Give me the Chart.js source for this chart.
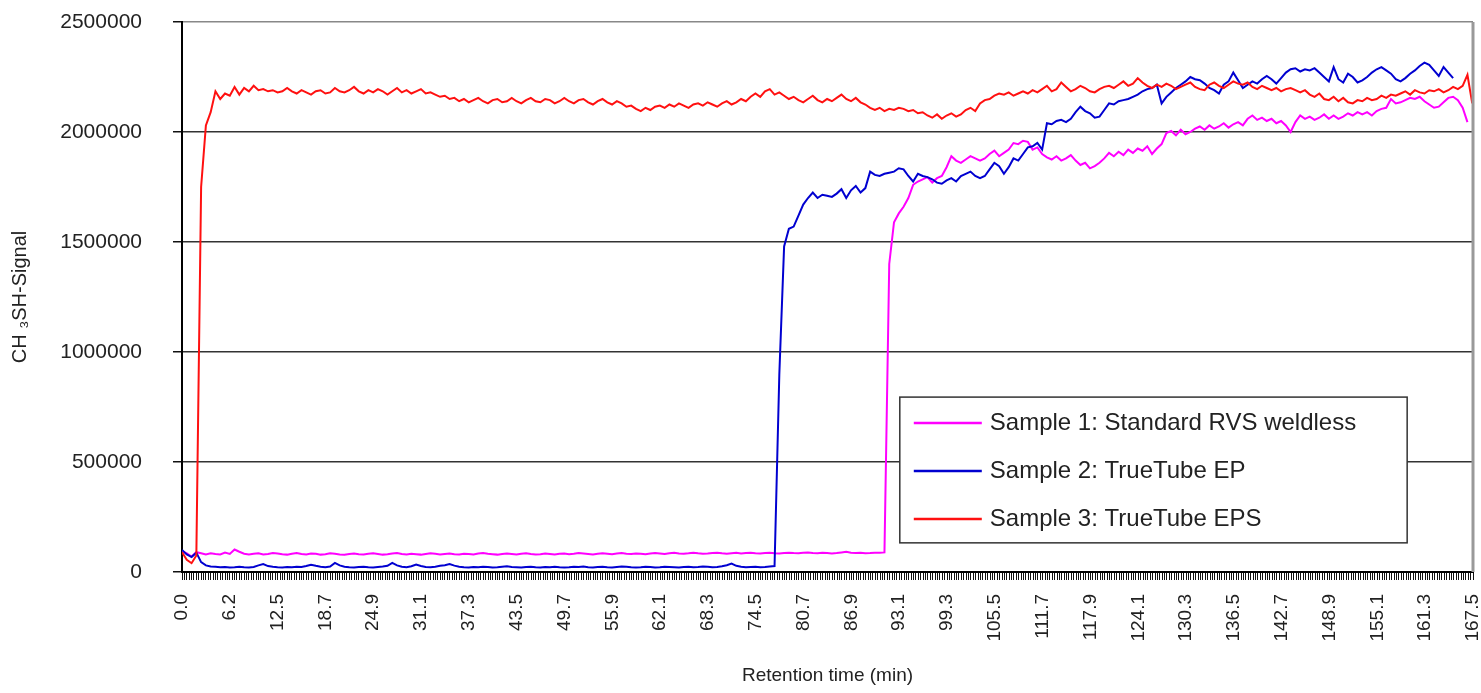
<!DOCTYPE html>
<html>
<head>
<meta charset="utf-8">
<script src="https://cdn.jsdelivr.net/npm/chart.js@4.4.1/dist/chart.umd.min.js"></script>
<style>
  body { margin: 0; background: #fff; }
</style>
</head>
<body>
<canvas id="myChart" width="1481" height="693"></canvas>
<script>
// signal values in thousands, one value every 0.62 min
const sampleStep = 0.62;

const sample1K = [
  95,85,70,90,85,80,85,82,80,88,82,102,92,83,80,83,85,80,82,86,
  84,81,79,83,86,82,80,84,83,79,81,85,83,80,78,82,84,81,80,83,
  85,82,79,81,84,86,82,80,83,81,79,82,85,83,80,82,84,81,80,83,
  82,80,84,86,83,81,79,82,84,82,80,83,85,82,80,81,84,82,80,83,
  84,81,83,86,84,82,80,83,85,83,81,84,86,83,82,84,83,81,84,86,
  84,82,85,87,84,83,85,88,85,83,84,86,88,85,83,85,87,84,86,88,
  85,84,86,87,85,84,86,88,86,85,87,89,86,85,87,86,84,86,89,92,
  88,86,87,85,86,88,87,89,
  1400,1590,1630,1660,1700,1760,1775,1785,1795,1770,
  1790,1800,1840,1890,1870,1860,1875,1890,1880,1870,
  1880,1900,1915,1890,1905,1920,1950,1945,1960,1955,
  1920,1930,1900,1885,1875,1890,1870,1880,1895,1870,
  1850,1860,1835,1845,1860,1880,1905,1890,1910,1895,
  1920,1905,1925,1915,1935,1900,1925,1945,1995,2005,
  1985,2010,1990,2000,2015,2025,2010,2030,2015,2025,
  2040,2020,2035,2045,2030,2060,2075,2055,2065,2050,
  2060,2040,2050,2030,2000,2045,2075,2060,2070,2055,
  2065,2080,2060,2075,2060,2070,2085,2075,2090,2080,
  2090,2075,2095,2105,2110,2150,2130,2135,2145,2155,
  2150,2160,2140,2125,2110,2115,2135,2155,2160,2145,
  2110,2045
];

const sample2K = [
  100,80,68,88,45,30,25,24,22,23,21,22,24,22,21,23,30,36,27,24,
  22,21,23,22,24,23,27,33,28,24,22,25,41,30,24,22,21,23,24,22,
  21,23,25,28,41,30,24,22,26,34,27,23,22,24,28,31,36,29,24,22,
  21,23,22,24,23,21,22,24,26,23,22,21,23,24,22,21,23,22,24,22,
  21,22,24,23,25,22,21,23,24,22,21,23,25,24,22,21,22,24,23,21,
  22,24,23,22,21,23,24,22,23,25,24,22,23,26,31,38,28,24,22,23,
  24,22,23,25,27,
  900,1480,1560,1570,1620,
  1670,1700,1725,1700,1715,1710,1705,1720,1740,1700,
  1735,1755,1725,1745,1820,1805,1800,1810,1815,1820,
  1835,1830,1800,1775,1810,1800,1795,1785,1770,1765,
  1780,1790,1775,1800,1810,1820,1800,1790,1800,1830,
  1860,1845,1810,1840,1880,1870,1900,1930,1935,1950,
  1920,2040,2035,2050,2055,2045,2060,2090,2115,2095,
  2085,2065,2070,2100,2130,2125,2140,2145,2150,2160,
  2170,2185,2195,2200,2215,2130,2160,2180,2200,2215,
  2230,2250,2240,2235,2220,2200,2190,2175,2215,2230,
  2270,2235,2200,2215,2230,2220,2240,2255,2240,2220,
  2245,2270,2285,2290,2275,2285,2280,2290,2270,2250,
  2230,2295,2240,2225,2265,2250,2225,2235,2250,2270,
  2285,2295,2280,2265,2240,2230,2245,2265,2280,2300,
  2315,2305,2280,2255,2295,2270,2245
];

const sample3K = [
  90,55,40,75,1750,2030,2090,2185,2150,2175,
  2165,2205,2170,2200,2185,2210,2190,2195,2185,2190,
  2180,2185,2200,2185,2175,2190,2180,2170,2185,2190,
  2175,2180,2200,2185,2180,2190,2205,2185,2175,2190,
  2180,2195,2185,2170,2185,2200,2180,2190,2175,2185,
  2195,2175,2180,2170,2160,2165,2150,2155,2140,2150,
  2135,2145,2155,2140,2130,2145,2150,2135,2140,2155,
  2140,2130,2145,2155,2140,2135,2150,2145,2130,2140,
  2155,2140,2130,2145,2150,2135,2125,2140,2150,2135,
  2125,2140,2130,2115,2120,2105,2095,2110,2100,2115,
  2120,2110,2125,2115,2130,2120,2110,2125,2130,2120,
  2135,2125,2115,2130,2140,2125,2135,2150,2140,2160,
  2175,2160,2185,2195,2170,2180,2165,2150,2160,2145,
  2135,2150,2165,2145,2135,2150,2140,2155,2170,2150,
  2140,2155,2135,2125,2110,2100,2110,2095,2105,2100,
  2110,2105,2095,2100,2085,2090,2075,2065,2080,2060,
  2075,2085,2070,2080,2100,2110,2095,2130,2145,2150,
  2165,2175,2170,2180,2165,2175,2185,2175,2190,2180,
  2195,2210,2185,2195,2225,2205,2185,2195,2210,2200,
  2185,2180,2195,2205,2210,2200,2215,2230,2210,2220,
  2245,2225,2210,2200,2215,2205,2220,2210,2195,2205,
  2215,2225,2205,2195,2190,2215,2225,2210,2200,2215,
  2230,2220,2215,2225,2205,2195,2210,2200,2190,2200,
  2185,2195,2200,2190,2180,2190,2170,2160,2175,2150,
  2145,2160,2140,2155,2135,2130,2145,2140,2155,2145,
  2150,2165,2155,2170,2165,2175,2185,2170,2190,2180,
  2175,2190,2185,2195,2180,2190,2205,2195,2210,2260,
  2130
];

const seriesNames = ['Sample 1: Standard RVS weldless', 'Sample 2: TrueTube EP', 'Sample 3: TrueTube EPS'];
const seriesColors = ['#ff00ff', '#0000d0', '#ff1010'];

const xTickLabels = ['0.0','6.2','12.5','18.7','24.9','31.1','37.3','43.5','49.7','55.9','62.1','68.3','74.5','80.7',
  '86.9','93.1','99.3','105.5','111.7','117.9','124.1','130.3','136.5','142.7','148.9','155.1','161.3','167.5'];
const xMax = 167.5;
const minorPerLabel = 20;   // small tick marks between two labels
const yTicks = [0, 500000, 1000000, 1500000, 2000000, 2500000];

const times = sample3K.map((_, i) => +(i * sampleStep).toFixed(2));
const FONT = '"Liberation Sans", Arial, sans-serif';

// legend drawn as a framed box inside the plot
const boxLegend = {
  id: 'boxLegend',
  afterDatasetsDraw(chart) {
    const {ctx, chartArea: a} = chart;
    const w = a.right - a.left, h = a.bottom - a.top;
    const x0 = a.left + w * 0.556, y0 = a.top + h * 0.682;
    const x1 = a.left + w * 0.949, y1 = a.top + h * 0.947;
    ctx.save();
    ctx.fillStyle = '#fff';
    ctx.fillRect(x0, y0, x1 - x0, y1 - y0);
    ctx.strokeStyle = '#333';
    ctx.lineWidth = 1.5;
    ctx.strokeRect(x0, y0, x1 - x0, y1 - y0);
    ctx.font = '24px ' + FONT;
    ctx.textBaseline = 'middle';
    chart.data.datasets.forEach((ds, i) => {
      const y = y0 + 26 + i * 48;
      ctx.strokeStyle = ds.borderColor;
      ctx.lineWidth = 2.5;
      ctx.beginPath();
      ctx.moveTo(x0 + 14, y);
      ctx.lineTo(x0 + 82, y);
      ctx.stroke();
      ctx.fillStyle = '#222';
      ctx.fillText(ds.label, x0 + 90, y);
    });
    ctx.restore();
  }
};

// grey frame line on the right of the plot area
const rightFrame = {
  id: 'rightFrame',
  afterDraw(chart) {
    const {ctx, chartArea: a} = chart;
    ctx.save();
    ctx.strokeStyle = '#999';
    ctx.lineWidth = 3;
    ctx.beginPath();
    ctx.moveTo(a.right, a.top);
    ctx.lineTo(a.right, a.bottom);
    ctx.stroke();
    ctx.restore();
  }
};

const noPad = scale => {
  scale.paddingTop = 0;
  scale.paddingBottom = 0;
  scale.paddingLeft = 0;
  scale.paddingRight = 0;
};

const ctx = document.getElementById('myChart');
const myChart = new Chart(ctx, {
  type: 'line',
  data: {
    labels: times,
    datasets: [
      { label: seriesNames[0], data: sample1K.map(v => v * 1000), borderColor: seriesColors[0], order: 2 },
      { label: seriesNames[1], data: sample2K.map(v => v * 1000), borderColor: seriesColors[1], order: 1 },
      { label: seriesNames[2], data: sample3K.map(v => v * 1000), borderColor: seriesColors[2], order: 0 }
    ]
  },
  options: {
    responsive: false,
    animation: false,
    devicePixelRatio: 1,
    layout: { padding: { top: 22, right: 8, bottom: 0, left: 0 } },
    elements: {
      line: { borderWidth: 2, tension: 0, fill: false },
      point: { radius: 0 }
    },
    plugins: {
      legend: { display: false },
      tooltip: { enabled: false }
    },
    scales: {
      x: {
        type: 'linear',
        min: 0,
        max: xMax,
        afterBuildTicks: scale => {
          const n = (xTickLabels.length - 1) * minorPerLabel;
          scale.ticks = [];
          for (let k = 0; k <= n; k++) scale.ticks.push({ value: k * xMax / n });
        },
        afterFit: scale => { scale.height = 121; noPad(scale); },
        ticks: {
          autoSkip: false,
          minRotation: 90,
          maxRotation: 90,
          padding: 14,
          color: '#222',
          font: { family: FONT, size: 19 },
          callback: (value, index) => index % minorPerLabel === 0 ? xTickLabels[index / minorPerLabel] : ''
        },
        grid: { drawOnChartArea: false, drawTicks: true, tickLength: 8, color: '#111', lineWidth: 1 },
        border: { display: true, color: '#000', width: 2 },
        title: {
          display: true,
          text: 'Retention time (min)',
          color: '#222',
          font: { family: FONT, size: 19 },
          padding: { top: 0, bottom: 6 }
        }
      },
      y: {
        min: 0,
        max: 2500000,
        afterBuildTicks: scale => { scale.ticks = yTicks.map(v => ({ value: v })); },
        afterFit: scale => { scale.width = 182; noPad(scale); },
        ticks: {
          padding: 31,
          color: '#222',
          font: { family: FONT, size: 21 },
          callback: v => String(v)
        },
        grid: {
          color: c => (c.tick && c.tick.value === 2500000) ? '#888' : '#333',
          tickColor: '#111',
          lineWidth: 1.5,
          tickLength: 9
        },
        border: { display: true, color: '#000', width: 2 },
        title: {
          display: true,
          text: 'CH ₃SH-Signal',
          color: '#222',
          font: { family: FONT, size: 20 },
          padding: { top: 8, bottom: 0 }
        }
      }
    }
  },
  plugins: [boxLegend, rightFrame]
});
</script>
</body>
</html>
